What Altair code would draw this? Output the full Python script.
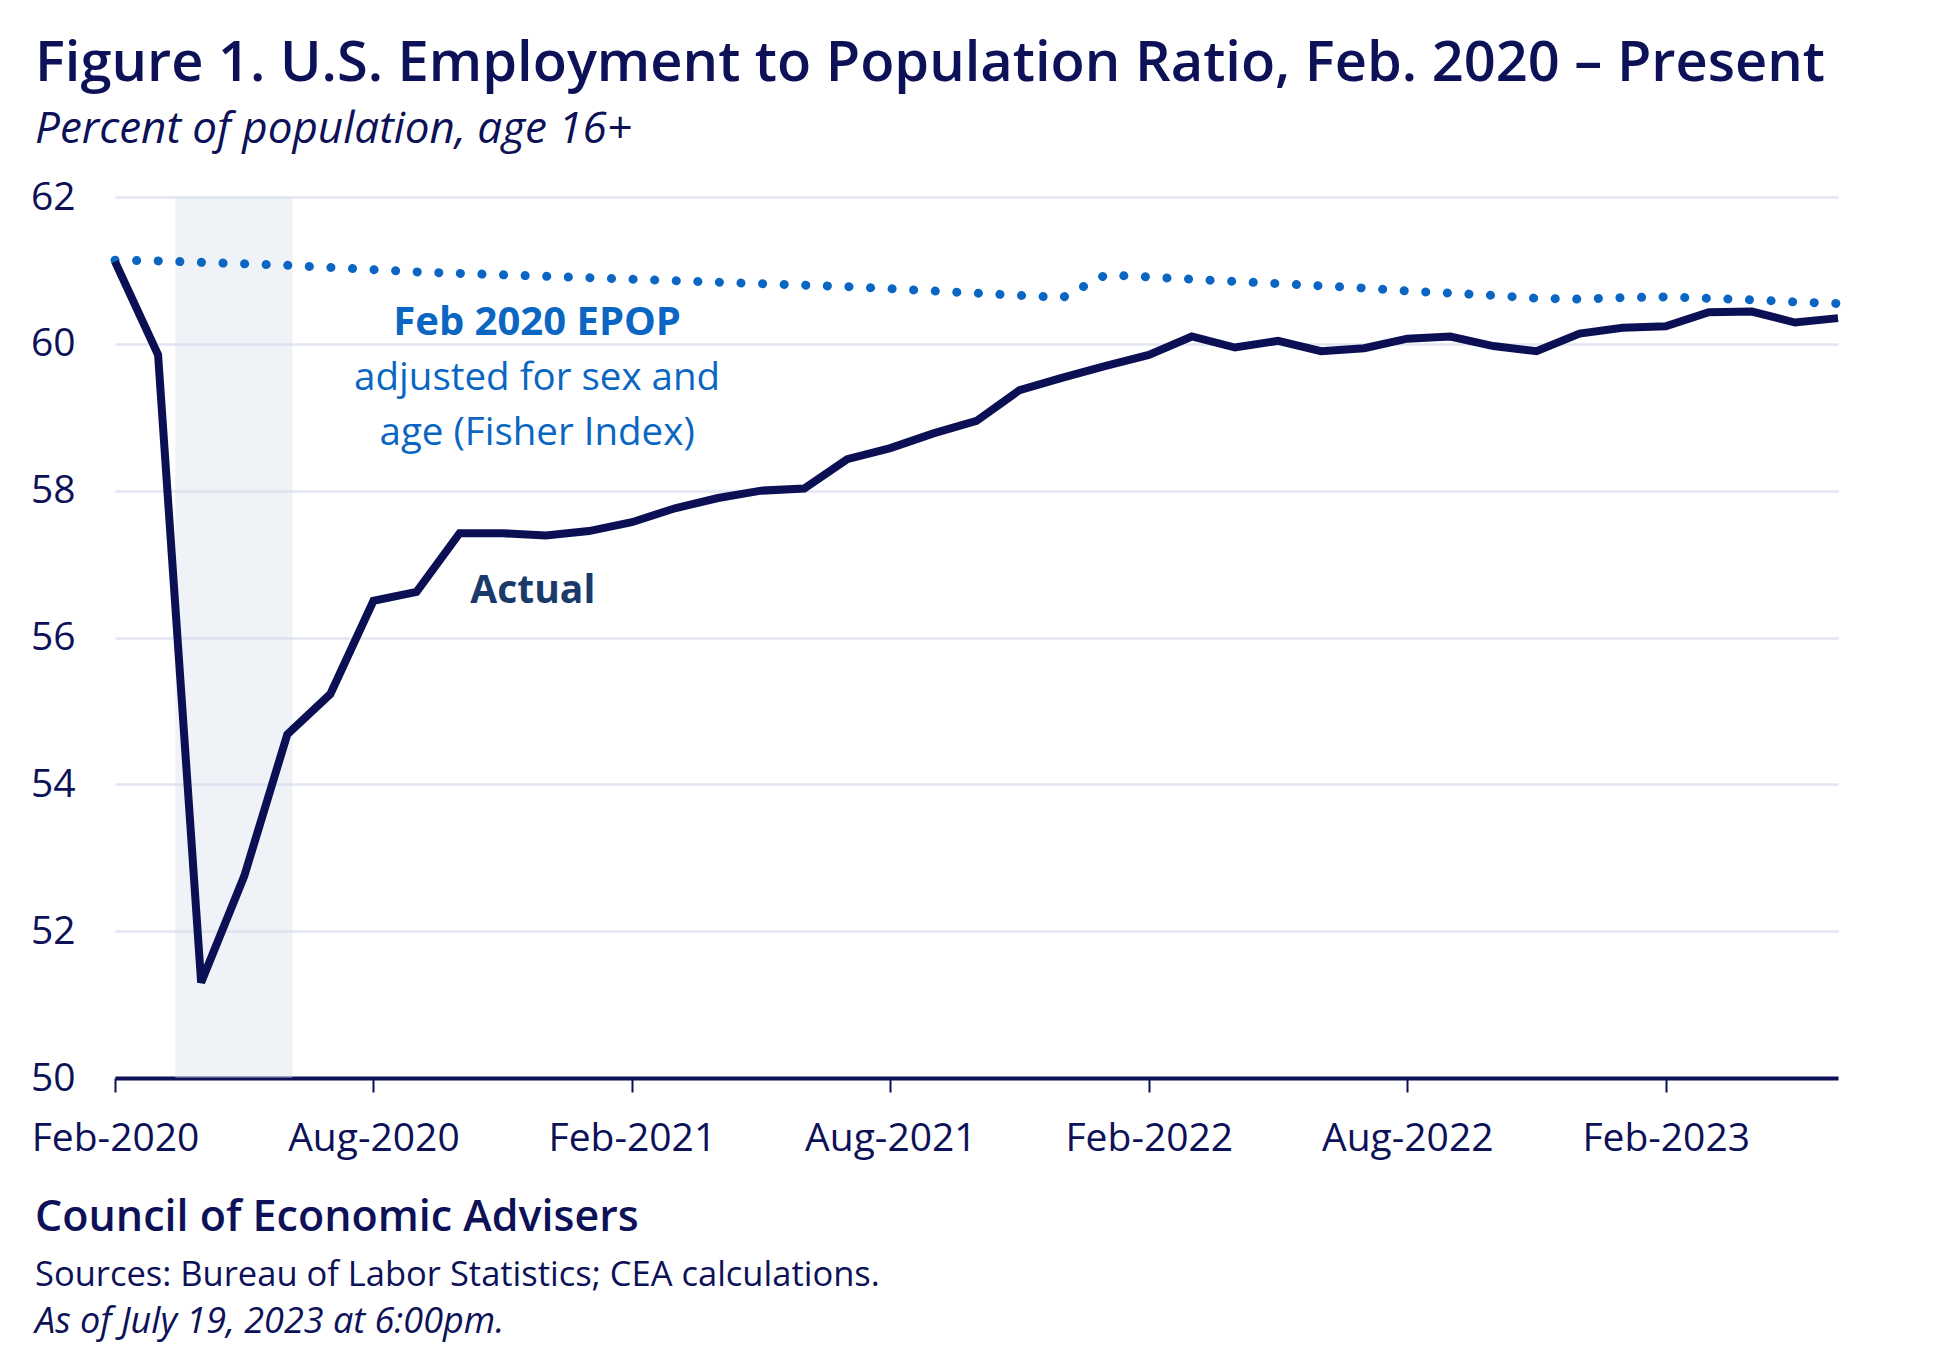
import altair as alt
import pandas as pd

# ---- data ----
month_index = list(range(41))  # 0 = Feb-2020 ... 40 = Jun-2023
actual = [61.12, 59.85, 51.3, 52.75, 54.68, 55.23, 56.5, 56.62, 57.42, 57.42,
          57.39, 57.45, 57.57, 57.76, 57.9, 58.0, 58.03, 58.43, 58.58, 58.78,
          58.95, 59.37, 59.54, 59.7, 59.85, 60.1, 59.95, 60.04, 59.9, 59.94,
          60.07, 60.1, 59.97, 59.9, 60.14, 60.22, 60.24, 60.43, 60.44, 60.29,
          60.35]
adjusted = [61.14, 61.13, 61.11, 61.09, 61.07, 61.04, 61.01, 60.98, 60.96, 60.94,
            60.92, 60.90, 60.88, 60.86, 60.84, 60.82, 60.80, 60.78, 60.75, 60.72,
            60.69, 60.66, 60.63, 60.94, 60.91, 60.88, 60.85, 60.82, 60.79, 60.76,
            60.72, 60.69, 60.66, 60.62, 60.61, 60.63, 60.64, 60.62, 60.60, 60.57,
            60.55]
tick_months = [0, 6, 12, 18, 24, 30, 36]
tick_labels = ["Feb-2020", "Aug-2020", "Feb-2021", "Aug-2021",
               "Feb-2022", "Aug-2022", "Feb-2023"]
y_ticks = [50, 52, 54, 56, 58, 60, 62]
band_start, band_end = [1.4], [4.12]
band_lo, band_hi = [50], [62]

ann_text = ["Feb 2020 EPOP", "adjusted for sex and", "age (Fisher Index)"]
ann_x = [9.8, 9.8, 9.8]
ann_y = [60.28, 59.53, 58.78]
ann_weight = ["bold", "normal", "normal"]
actual_label_x, actual_label_y = [9.7], [56.63]

NAVY = "#0D1157"
BLUE = "#0A66C2"
FONT = "Open Sans"

W, H = 1723, 881

df = pd.DataFrame({"m": month_index, "actual": actual, "adjusted": adjusted})
band_df = pd.DataFrame({"s": band_start, "e": band_end, "lo": band_lo, "hi": band_hi})
ann_df = pd.DataFrame({"x": ann_x, "y": ann_y, "t": ann_text, "w": ann_weight})
act_df = pd.DataFrame({"x": actual_label_x, "y": actual_label_y, "t": ["Actual"]})

label_js = "[" + ",".join("'%s'" % s for s in tick_labels) + "]"

xscale = alt.Scale(domain=[0, 40], nice=False, zero=False)
yscale = alt.Scale(domain=[50, 62], nice=False, zero=False)

xaxis = alt.Axis(values=tick_months, labelExpr=label_js + "[datum.value/6]",
                 title=None, grid=False, domain=True, domainColor=NAVY, domainWidth=4,
                 ticks=True, tickColor=NAVY, tickSize=14, tickWidth=2,
                 labelFont=FONT, labelFontSize=39, labelColor=NAVY, labelPadding=27,
                 labelFlush=False)
yaxis = alt.Axis(values=y_ticks, format="d", title=None, grid=True, gridColor="#E2E6F0",
                 gridWidth=2.5, domain=False, ticks=False, labelFont=FONT, labelFontSize=39,
                 labelColor=NAVY, labelPadding=40)

band = alt.Chart(band_df).mark_rect(color="#D3DAE9", opacity=0.36).encode(
    x=alt.X("s:Q", scale=xscale, axis=xaxis),
    x2="e:Q",
    y=alt.Y("lo:Q", scale=yscale, axis=yaxis),
    y2="hi:Q",
)

adj_line = alt.Chart(df).mark_line(color=BLUE, strokeWidth=9, strokeDash=[0.1, 21.5],
                                   strokeCap="round").encode(
    x=alt.X("m:Q", scale=xscale), y=alt.Y("adjusted:Q", scale=yscale))

act_line = alt.Chart(df).mark_line(color="#0B1055", strokeWidth=8, strokeJoin="miter").encode(
    x=alt.X("m:Q", scale=xscale), y=alt.Y("actual:Q", scale=yscale))

ann_bold = alt.Chart(ann_df[ann_df.w == "bold"]).mark_text(
    font=FONT, fontSize=40, fontWeight="bold", color=BLUE, align="center", baseline="middle"
).encode(x=alt.X("x:Q", scale=xscale), y=alt.Y("y:Q", scale=yscale), text="t:N")

ann_norm = alt.Chart(ann_df[ann_df.w == "normal"]).mark_text(
    font=FONT, fontSize=38.5, color=BLUE, align="center", baseline="middle"
).encode(x=alt.X("x:Q", scale=xscale), y=alt.Y("y:Q", scale=yscale), text="t:N")

act_txt = alt.Chart(act_df).mark_text(
    font=FONT, fontSize=39, fontWeight="bold", color="#1B3A6B", align="center", baseline="middle"
).encode(x=alt.X("x:Q", scale=xscale), y=alt.Y("y:Q", scale=yscale), text="t:N")

foot1 = alt.Chart(df.head(1)).mark_text(
    text="Council of Economic Advisers", font=FONT, fontSize=43, fontWeight=600,
    color=NAVY, align="left", baseline="alphabetic").encode(
    x=alt.value(-80), y=alt.value(1034))
foot2 = alt.Chart(df.head(1)).mark_text(
    text="Sources: Bureau of Labor Statistics; CEA calculations.", font=FONT, fontSize=34.5,
    color=NAVY, align="left", baseline="alphabetic").encode(
    x=alt.value(-80), y=alt.value(1089))
foot3 = alt.Chart(df.head(1)).mark_text(
    text="As of July 19, 2023 at 6:00pm.", font=FONT, fontSize=36, fontStyle="italic",
    color=NAVY, align="left", baseline="alphabetic").encode(
    x=alt.value(-80), y=alt.value(1136))

chart = alt.layer(band, adj_line, act_line, ann_bold, ann_norm, act_txt,
                  foot1, foot2, foot3).properties(
    width=W, height=H,
    autosize=alt.AutoSizeParams(type="none"),
    padding={"left": 107, "top": 189, "right": 107, "bottom": 272},
    title=alt.TitleParams(
        text="Figure 1. U.S. Employment to Population Ratio, Feb. 2020 – Present",
        subtitle="Percent of population, age 16+",
        anchor="start", frame="group", dx=-80, offset=25,
        font=FONT, fontSize=56, fontWeight=600, color=NAVY,
        subtitleFont=FONT, subtitleFontSize=44, subtitleFontStyle="italic",
        subtitleColor=NAVY, subtitlePadding=15,
    ),
).configure(background="white").configure_view(stroke=None)

chart.save("out.html", embed_options={"renderer": "svg", "actions": False})
